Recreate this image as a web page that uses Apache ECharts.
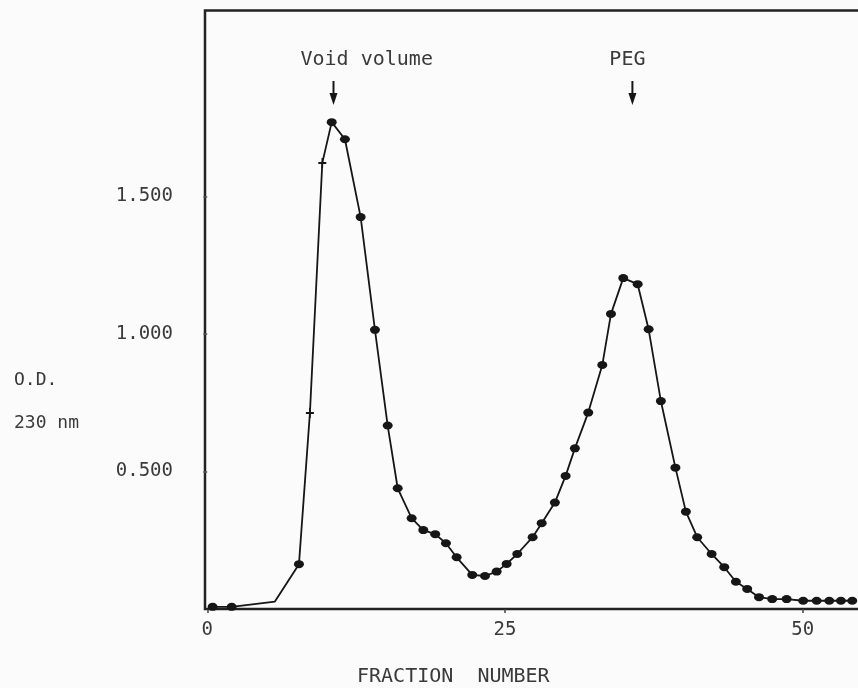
<!DOCTYPE html>
<html><head><meta charset="utf-8">
<script src="https://cdn.jsdelivr.net/npm/echarts@6/dist/echarts.min.js"></script>
<style>html,body{margin:0;padding:0;background:#fbfbfb}#c{width:858px;height:688px}</style>
</head><body><div id="c"></div>
<script>
// Fraction number (x) and O.D. at 230 nm (y)
const fractions = [0.45, 2.05, 5.68, 7.70, 8.62, 9.66, 10.45, 11.56, 12.88, 14.08,
  15.15, 15.99, 17.16, 18.14, 19.14, 20.04, 20.94, 22.25, 23.32, 24.30,
  25.14, 26.03, 27.32, 28.08, 29.19, 30.09, 30.87, 31.99, 33.17, 33.90,
  34.93, 36.14, 37.06, 38.09, 39.31, 40.19, 41.14, 42.35, 43.41, 44.39,
  45.34, 46.33, 47.44, 48.65, 50.04, 51.17, 52.23, 53.21, 54.16];
const od = [0.008, 0.008, 0.027, 0.163, 0.713, 1.622, 1.770, 1.708, 1.425, 1.015,
  0.667, 0.439, 0.330, 0.287, 0.272, 0.239, 0.188, 0.124, 0.120, 0.136,
  0.164, 0.200, 0.261, 0.312, 0.387, 0.484, 0.584, 0.714, 0.887, 1.073,
  1.203, 1.181, 1.017, 0.756, 0.514, 0.354, 0.261, 0.200, 0.152, 0.099,
  0.073, 0.043, 0.036, 0.036, 0.030, 0.030, 0.030, 0.030, 0.030];
const crossPoints = [4, 5];     // points drawn as "+"
const unmarkedPoints = [2];     // points with no marker
const xTicks = [0, 25, 50];
const yTicks = [0.5, 1.0, 1.5];
const annotationLabels = ['Void volume', 'PEG'];
const annotationFractions = [10.6, 35.7];
const xTitle = 'FRACTION  NUMBER';
const yTitleLines = ['O.D.', '230 nm'];

const FONT = 'DejaVu Sans Mono';
const INK = '#161616';
const TXT = '#3a3a3a';
const crossPath = 'path://M4,0h2v4h4v2h-4v4h-2v-4h-4v-2h4z';

const seriesData = fractions.map((f, i) => {
  const item = { value: [f, od[i]] };
  if (crossPoints.includes(i)) { item.symbol = crossPath; item.symbolSize = [8, 10]; }
  if (unmarkedPoints.includes(i)) { item.symbol = 'none'; }
  return item;
});

const chart = echarts.init(document.getElementById('c'));
chart.setOption({
  backgroundColor: '#fbfbfb',
  animation: false,
  grid: { left: 205, top: 10.5, width: 665, height: 598.5, show: true,
          outerBoundsMode: 'none', containLabel: false,
          borderColor: '#222', borderWidth: 2.5, backgroundColor: 'transparent' },
  xAxis: {
    type: 'value', min: -0.19, max: 55.65,
    axisLine: { show: false },
    axisTick: { show: true, customValues: xTicks, length: 4, lineStyle: { color: '#444', width: 1.5 } },
    axisLabel: { customValues: xTicks, margin: 12, color: TXT, fontFamily: FONT, fontSize: 19 },
    splitLine: { show: false }
  },
  yAxis: {
    type: 'value', min: 0, max: 2.176,
    axisLine: { show: false },
    axisTick: { show: true, customValues: yTicks, length: 4, lineStyle: { color: '#555', width: 1.5 } },
    axisLabel: { customValues: yTicks, margin: 32, color: TXT, fontFamily: FONT, fontSize: 19,
                 formatter: v => v.toFixed(3) },
    splitLine: { show: false }
  },
  series: [{
    type: 'line',
    data: seriesData,
    symbol: 'circle',
    symbolSize: [10, 8],
    showAllSymbol: true,
    itemStyle: { color: INK },
    lineStyle: { color: INK, width: 1.8 },
    z: 5
  }]
});

const graphics = [];
annotationLabels.forEach((label, i) => {
  const px = chart.convertToPixel({ gridIndex: 0 }, [annotationFractions[i], 0])[0];
  graphics.push({
    type: 'line', shape: { x1: px, y1: 81, x2: px, y2: 96 },
    style: { stroke: INK, lineWidth: 2 }
  });
  graphics.push({
    type: 'polygon', shape: { points: [[px - 4, 93], [px + 4, 93], [px, 105]] },
    style: { fill: INK }
  });
  const isLeft = i === 0;
  graphics.push({
    type: 'text',
    x: isLeft ? px - 33 : px - 5, y: 60,
    style: { text: label, font: '20px "' + FONT + '"', fill: TXT,
             align: isLeft ? 'left' : 'center', verticalAlign: 'middle' }
  });
});
yTitleLines.forEach((t, i) => {
  graphics.push({
    type: 'text', x: 14, y: 380 + i * 43.5,
    style: { text: t, font: '18px "' + FONT + '"', fill: TXT, align: 'left', verticalAlign: 'middle' }
  });
});
graphics.push({
  type: 'text', x: 357, y: 677,
  style: { text: xTitle, font: '20px "' + FONT + '"', fill: TXT, align: 'left', verticalAlign: 'middle' }
});
chart.setOption({ graphic: graphics });
</script>
</body></html>
